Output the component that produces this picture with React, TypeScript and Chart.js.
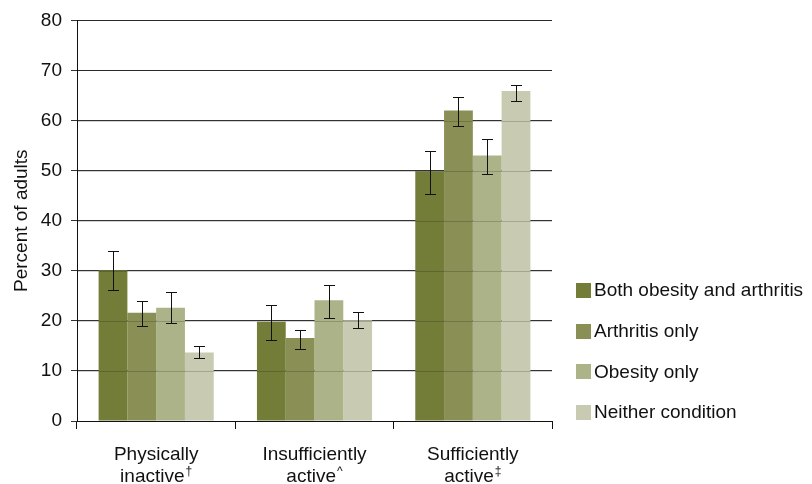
import React, { useEffect, useRef } from "react";
import { Chart, registerables } from "chart.js";
Chart.register(...registerables);

const categoryLine1 = ["Physically", "Insufficiently", "Sufficiently"];
const categoryLine2 = ["inactive", "active", "active"];
const categoryMarks = ["\u2020", "^", "\u2021"];

const seriesLabels = ["Both obesity and arthritis", "Arthritis only", "Obesity only", "Neither condition"];
const seriesColors = ["#737d37", "#8a8f55", "#adb388", "#c8cbb1"];

const bothValues = [30.1, 19.8, 49.9];
const arthritisValues = [21.6, 16.6, 62.0];
const obesityValues = [22.6, 24.1, 53.0];
const neitherValues = [13.7, 20.1, 65.9];

const bothLow = [26.1, 16.1, 45.3];
const bothHigh = [33.9, 23.2, 53.9];
const arthritisLow = [18.9, 14.3, 58.9];
const arthritisHigh = [23.9, 18.2, 64.7];
const obesityLow = [19.6, 20.6, 49.3];
const obesityHigh = [25.7, 27.1, 56.4];
const neitherLow = [12.5, 18.5, 63.9];
const neitherHigh = [15.0, 21.8, 67.1];

const yTicks = [0, 10, 20, 30, 40, 50, 60, 70, 80];

const FONT = "'Liberation Sans', Arial, Helvetica, sans-serif";
const FS = 19;

export default function App() {
  const ref = useRef<HTMLCanvasElement | null>(null);
  useEffect(() => {
    if (!ref.current) return;
    const values = [bothValues, arthritisValues, obesityValues, neitherValues];
    const lows = [bothLow, arthritisLow, obesityLow, neitherLow];
    const highs = [bothHigh, arthritisHigh, obesityHigh, neitherHigh];

    const overlayPlugin = {
      id: "overlay",
      afterDatasetsDraw(chart: any) {
        const ctx = chart.ctx;
        const ca = chart.chartArea;
        const y = chart.scales.y;
        ctx.save();
        ctx.strokeStyle = "rgba(0,0,0,0.18)";
        ctx.lineWidth = 1;
        yTicks.forEach((t) => {
          if (t === 0) return;
          const py = Math.round(y.getPixelForValue(t)) + 0.5;
          ctx.beginPath();
          ctx.moveTo(ca.left, py);
          ctx.lineTo(ca.right, py);
          ctx.stroke();
        });
        ctx.strokeStyle = "#111";
        ctx.lineWidth = 1;
        chart.data.datasets.forEach((ds: any, i: number) => {
          const meta = chart.getDatasetMeta(i);
          meta.data.forEach((bar: any, j: number) => {
            const x = Math.round(bar.x) + 0.5;
            const yh = Math.round(y.getPixelForValue(highs[i][j])) + 0.5;
            const yl = Math.round(y.getPixelForValue(lows[i][j])) + 0.5;
            ctx.beginPath();
            ctx.moveTo(x, yh);
            ctx.lineTo(x, yl);
            ctx.moveTo(x - 5.5, yh);
            ctx.lineTo(x + 5.5, yh);
            ctx.moveTo(x - 5.5, yl);
            ctx.lineTo(x + 5.5, yl);
            ctx.stroke();
          });
        });
        ctx.restore();
      },
      afterDraw(chart: any) {
        const ctx = chart.ctx;
        const ca = chart.chartArea;
        const x = chart.scales.x;
        ctx.save();
        ctx.fillStyle = "#111";
        ctx.textBaseline = "alphabetic";
        categoryLine1.forEach((l1, i) => {
          const cx = x.getPixelForValue(i);
          ctx.font = `${FS}px ${FONT}`;
          ctx.textAlign = "center";
          ctx.fillText(l1, cx, ca.bottom + 39);
          const l2 = categoryLine2[i];
          const w2 = ctx.measureText(l2).width;
          ctx.font = `12px ${FONT}`;
          const ws = ctx.measureText(categoryMarks[i]).width;
          const start = cx - (w2 + ws + 1) / 2;
          ctx.textAlign = "left";
          ctx.font = `${FS}px ${FONT}`;
          ctx.fillText(l2, start, ca.bottom + 61);
          ctx.font = `12px ${FONT}`;
          ctx.fillText(categoryMarks[i], start + w2 + 1, ca.bottom + 54);
        });
        ctx.font = `${FS}px ${FONT}`;
        ctx.textAlign = "left";
        ctx.textBaseline = "middle";
        seriesLabels.forEach((lab, i) => {
          const cy = ca.bottom - 131 + i * 40.7;
          ctx.fillStyle = seriesColors[i];
          ctx.fillRect(ca.right + 24, Math.round(cy) - 7, 15, 15);
          ctx.fillStyle = "#111";
          ctx.fillText(lab, ca.right + 42, cy + 1);
        });
        ctx.restore();
      },
    };

    const chart = new Chart(ref.current, {
      type: "bar",
      data: {
        labels: categoryLine1,
        datasets: seriesLabels.map((lab, i) => ({
          label: lab,
          data: values[i],
          backgroundColor: seriesColors[i],
          borderWidth: 0,
          categoryPercentage: 0.727,
          barPercentage: 1.0,
        })),
      },
      options: {
        responsive: false,
        animation: false,
        maintainAspectRatio: false,
        layout: { padding: { left: 0, right: 260, top: 19, bottom: 0 } },
        plugins: {
          legend: { display: false },
          tooltip: { enabled: false },
        },
        scales: {
          x: {
            grid: {
              offset: true,
              drawOnChartArea: false,
              drawTicks: true,
              tickLength: 8,
              color: "#111",
            },
            border: { color: "#111", width: 1 },
            ticks: { display: false },
            afterFit: (s: any) => {
              s.height = 63;
            },
          },
          y: {
            min: 0,
            max: 80,
            afterBuildTicks: (s: any) => {
              s.ticks = yTicks.map((v) => ({ value: v }));
            },
            grid: {
              color: "#333",
              lineWidth: 1,
              drawTicks: true,
              tickLength: 6,
            },
            border: { color: "#111", width: 1 },
            ticks: {
              color: "#111",
              font: { family: FONT, size: FS },
              padding: 9,
            },
            title: {
              display: true,
              text: "Percent of adults",
              color: "#111",
              font: { family: FONT, size: FS },
              padding: { top: 10, bottom: 4 },
            },
            afterFit: (s: any) => {
              s.width = 77;
            },
          },
        },
      },
      plugins: [overlayPlugin],
    });
    return () => chart.destroy();
  }, []);
  return (
    <div style={{ position: "fixed", left: 0, top: 0, width: 812, height: 484, background: "#fff" }}>
      <canvas ref={ref} width={812} height={484} style={{ width: 812, height: 484 }} />
    </div>
  );
}
